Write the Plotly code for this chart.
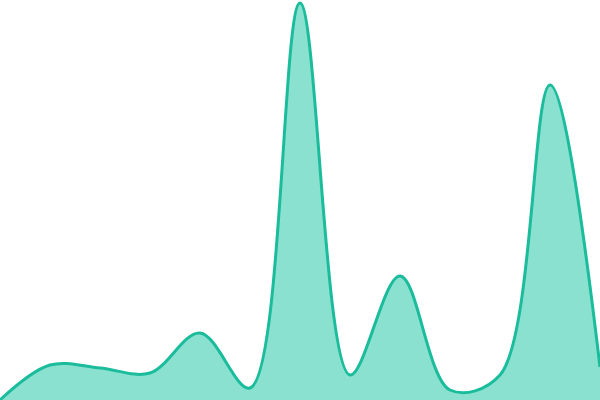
import plotly.graph_objects as go

# sample positions and values
x_pos = [0, 50, 100, 150, 200, 250, 300, 350, 400, 450, 500, 550, 600]
values = [0, 35, 32, 27, 67, 12, 397, 25, 124, 10, 25, 315, 33]

fig = go.Figure()
fig.add_trace(go.Scatter(
    x=x_pos, y=values,
    mode="lines",
    line=dict(color="#1abc9c", width=3, shape="spline", smoothing=1),
    fill="tozeroy",
    fillcolor="#8be1d0",
    hoverinfo="skip",
))

fig.update_layout(
    width=600, height=400,
    margin=dict(l=0, r=0, t=0, b=0),
    paper_bgcolor="white",
    plot_bgcolor="white",
    showlegend=False,
    xaxis=dict(range=[0, 600], visible=False, fixedrange=True),
    yaxis=dict(range=[0, 400], visible=False, fixedrange=True),
)

# drop the default body margin so the chart sits flush in the window
fig.write_html(
    "out.html",
    config={"displayModeBar": False},
    post_script="document.body.style.margin='0';document.body.style.overflow='hidden';",
)
